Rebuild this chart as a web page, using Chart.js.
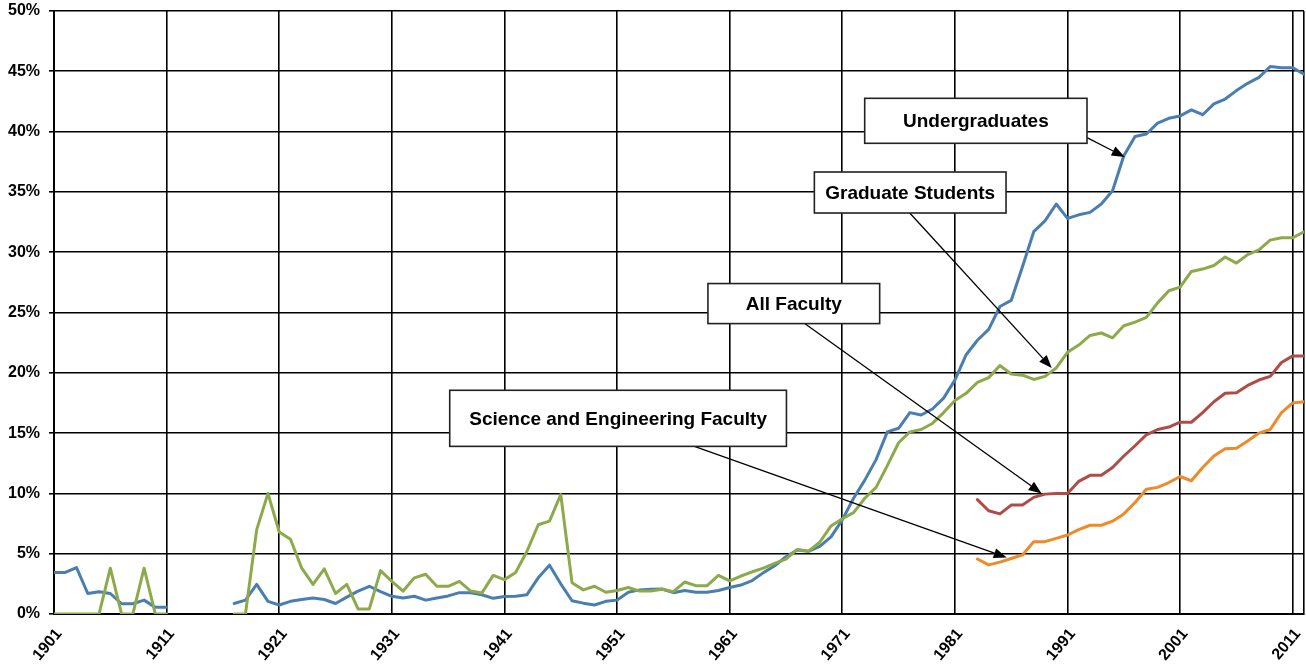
<!DOCTYPE html>
<html>
<head>
<meta charset="utf-8">
<script src="https://cdn.jsdelivr.net/npm/chart.js@4.4.1/dist/chart.umd.min.js"></script>
<style>
  body { margin: 0; background: #fff; }
  #wrap { width: 1306px; height: 666px; }
</style>
</head>
<body>
<div id="wrap"><canvas id="chart"></canvas></div>
<script>
// years on the x axis
const firstYear = 1901
const lastYear = 2012
const xTickYears = [1901, 1911, 1921, 1931, 1941, 1951, 1961, 1971, 1981, 1991, 2001, 2011]
const yTicks = [0, 5, 10, 15, 20, 25, 30, 35, 40, 45, 50]

// share of women (%), one value per year from 1901, null = no data
const undergraduates = [
  3.45, 3.45, 3.85, 1.7, 1.85, 1.7, 0.85, 0.85, 1.15, 0.55,
  0.55, null, null, null, null, null, 0.87, 1.15, 2.45, 1.05,
  0.75, 1.05, 1.2, 1.33, 1.2, 0.87, 1.4, 1.9, 2.3, 1.85,
  1.47, 1.33, 1.47, 1.15, 1.33, 1.5, 1.77, 1.77, 1.6, 1.3,
  1.45, 1.47, 1.6, 3.0, 4.05, 2.5, 1.1, 0.9, 0.75, 1.05,
  1.15, 1.8, 2.0, 2.05, 2.07, 1.77, 1.95, 1.8, 1.8, 1.95,
  2.2, 2.4, 2.77, 3.43, 4.0, 4.75, 5.3, 5.2, 5.6, 6.4,
  7.8, 9.6, 11.1, 12.8, 15.1, 15.4, 16.7, 16.5, 17.0, 17.9,
  19.4, 21.5, 22.7, 23.6, 25.5, 26.0, 28.8, 31.7, 32.6, 34.0,
  32.8, 33.1, 33.3, 34.0, 35.1, 38.0, 39.6, 39.8, 40.7, 41.1,
  41.3, 41.8, 41.4, 42.3, 42.7, 43.4, 44.0, 44.5, 45.4, 45.3,
  45.3, 44.75
]
const graduateStudents = [
  0, 0, 0, 0, 0, 3.8, 0, 0, 3.8, 0,
  0, null, null, null, null, null, 0, 0, 7.0, 10.0,
  6.8, 6.2, 3.8, 2.45, 3.75, 1.7, 2.45, 0.42, 0.42, 3.6,
  2.7, 1.9, 3.0, 3.3, 2.3, 2.3, 2.7, 1.9, 1.75, 3.2,
  2.85, 3.45, 5.2, 7.4, 7.7, 9.9, 2.6, 2.0, 2.3, 1.8,
  1.95, 2.2, 1.9, 1.9, 2.05, 1.85, 2.65, 2.35, 2.35, 3.2,
  2.75, 3.15, 3.5, 3.8, 4.2, 4.55, 5.35, 5.2, 5.95, 7.3,
  7.9, 8.4, 9.6, 10.5, 12.3, 14.2, 15.1, 15.3, 15.8, 16.7,
  17.7, 18.3, 19.2, 19.6, 20.6, 19.9, 19.8, 19.45, 19.7, 20.4,
  21.7, 22.3, 23.1, 23.3, 22.9, 23.9, 24.2, 24.6, 25.8, 26.8,
  27.1, 28.4, 28.6, 28.9, 29.6, 29.1, 29.8, 30.2, 31.0, 31.2,
  31.2, 31.7
]
// faculty series only start in 1983
const facultyStartYear = 1983
const allFaculty = [
  9.48, 8.56, 8.3, 9.03, 9.03, 9.67, 9.94, 10.0, 10.0, 11.0,
  11.5, 11.5, 12.15, 13.1, 13.95, 14.86, 15.3, 15.5, 15.9, 15.9,
  16.7, 17.6, 18.3, 18.35, 18.95, 19.4, 19.7, 20.85, 21.4, 21.4
]
const scienceEngFaculty = [
  4.56, 4.07, 4.3, 4.6, 4.9, 6.0, 6.0, 6.27, 6.55, 7.0,
  7.36, 7.36, 7.7, 8.3, 9.25, 10.35, 10.5, 10.9, 11.4, 11.05,
  12.15, 13.1, 13.7, 13.75, 14.35, 15.0, 15.3, 16.7, 17.5, 17.6
]

// callout boxes, in chart units (year, percent)
const callouts = [
  { text: 'Undergraduates', box: [1972.99, 1992.73, 42.76, 39.03], from: [1992.73, 39.5], to: [1996.08, 37.9] },
  { text: 'Graduate Students', box: [1968.52, 1985.54, 36.65, 33.25], from: [1976.99, 33.25], to: [1989.6, 20.4] },
  { text: 'All Faculty', box: [1959.07, 1974.32, 27.4, 24.08], from: [1967.66, 24.08], to: [1988.7, 10.0] },
  { text: 'Science and Engineering Faculty', box: [1936.14, 1966.04, 18.55, 13.9], from: [1957.87, 13.9], to: [1985.6, 4.68] }
]

const years = []
for (let yr = firstYear; yr <= lastYear; yr++) years.push(yr)

function toPoints(values, start) {
  return years.map(yr => {
    const i = yr - start
    return { x: yr, y: (i >= 0 && i < values.length) ? values[i] : null }
  })
}

const FONT = 'Arial, "Liberation Sans", sans-serif'

const calloutPlugin = {
  id: 'callouts',
  afterDraw(chart) {
    const ctx = chart.ctx
    const xs = chart.scales.x, ys = chart.scales.y
    ctx.save()
    callouts.forEach(c => {
      // arrow
      const sx = xs.getPixelForValue(c.from[0]), sy = ys.getPixelForValue(c.from[1])
      const tx = xs.getPixelForValue(c.to[0]), ty = ys.getPixelForValue(c.to[1])
      const ang = Math.atan2(ty - sy, tx - sx)
      const headLen = 13, headW = 5
      ctx.strokeStyle = '#000'
      ctx.lineWidth = 1.3
      ctx.beginPath()
      ctx.moveTo(sx, sy)
      ctx.lineTo(tx - Math.cos(ang) * headLen, ty - Math.sin(ang) * headLen)
      ctx.stroke()
      ctx.fillStyle = '#000'
      ctx.beginPath()
      ctx.moveTo(tx, ty)
      ctx.lineTo(tx - Math.cos(ang) * headLen - Math.sin(ang) * headW, ty - Math.sin(ang) * headLen + Math.cos(ang) * headW)
      ctx.lineTo(tx - Math.cos(ang) * headLen + Math.sin(ang) * headW, ty - Math.sin(ang) * headLen - Math.cos(ang) * headW)
      ctx.closePath()
      ctx.fill()

      // box
      const x1 = xs.getPixelForValue(c.box[0]), x2 = xs.getPixelForValue(c.box[1])
      const y1 = ys.getPixelForValue(c.box[2]), y2 = ys.getPixelForValue(c.box[3])
      ctx.fillStyle = '#fff'
      ctx.fillRect(x1, y1, x2 - x1, y2 - y1)
      ctx.strokeStyle = '#222'
      ctx.lineWidth = 1.6
      ctx.strokeRect(x1, y1, x2 - x1, y2 - y1)
      ctx.fillStyle = '#000'
      ctx.font = 'bold 19px ' + FONT
      ctx.textAlign = 'center'
      ctx.textBaseline = 'middle'
      ctx.fillText(c.text, (x1 + x2) / 2, (y1 + y2) / 2 + 1)
    })
    ctx.restore()
  }
}

const lineStyle = { borderWidth: 3, pointRadius: 0, tension: 0, spanGaps: false, borderJoinStyle: 'round', borderCapStyle: 'round' }

new Chart(document.getElementById('chart'), {
  type: 'line',
  data: {
    datasets: [
      Object.assign({ label: 'Graduate Students', data: toPoints(graduateStudents, firstYear), borderColor: '#8DAA4B', order: 1 }, lineStyle),
      Object.assign({ label: 'Undergraduates', data: toPoints(undergraduates, firstYear), borderColor: '#4A7EB0', order: 2 }, lineStyle),
      Object.assign({ label: 'All Faculty', data: toPoints(allFaculty, facultyStartYear), borderColor: '#B04C46', order: 3 }, lineStyle),
      Object.assign({ label: 'Science and Engineering Faculty', data: toPoints(scienceEngFaculty, facultyStartYear), borderColor: '#EE8A2A', order: 4 }, lineStyle)
    ]
  },
  options: {
    responsive: true,
    maintainAspectRatio: false,
    animation: false,
    layout: { padding: { top: 11, right: 2, left: 0, bottom: 0 } },
    plugins: {
      legend: { display: false },
      tooltip: { enabled: false }
    },
    scales: {
      x: {
        type: 'linear',
        min: firstYear,
        max: lastYear,
        afterBuildTicks: scale => {
          scale.ticks = xTickYears.concat([lastYear]).map(v => ({ value: v }))
        },
        afterFit: scale => {
          scale.height = 52
          scale.paddingRight = 0
          scale.paddingLeft = 0
        },
        ticks: {
          autoSkip: false,
          minRotation: 50,
          maxRotation: 50,
          padding: 11,
          labelOffset: 5,
          color: '#000',
          font: { family: FONT, size: 16, weight: 'bold' },
          callback: v => xTickYears.includes(v) ? String(v) : ''
        },
        grid: { color: '#000', lineWidth: 1.6, drawTicks: false },
        border: { color: '#000', width: 2 }
      },
      y: {
        min: 0,
        max: 50,
        afterBuildTicks: scale => {
          scale.ticks = yTicks.map(v => ({ value: v }))
        },
        afterFit: scale => {
          scale.width = 54
          scale.paddingTop = 0
          scale.paddingBottom = 0
        },
        ticks: {
          padding: 9,
          color: '#000',
          font: { family: FONT, size: 16, weight: 'bold' },
          callback: v => v + '%'
        },
        grid: { color: '#000', lineWidth: 1.6, tickLength: 5 },
        border: { color: '#000', width: 2 }
      }
    }
  },
  plugins: [calloutPlugin]
})
</script>
</body>
</html>
